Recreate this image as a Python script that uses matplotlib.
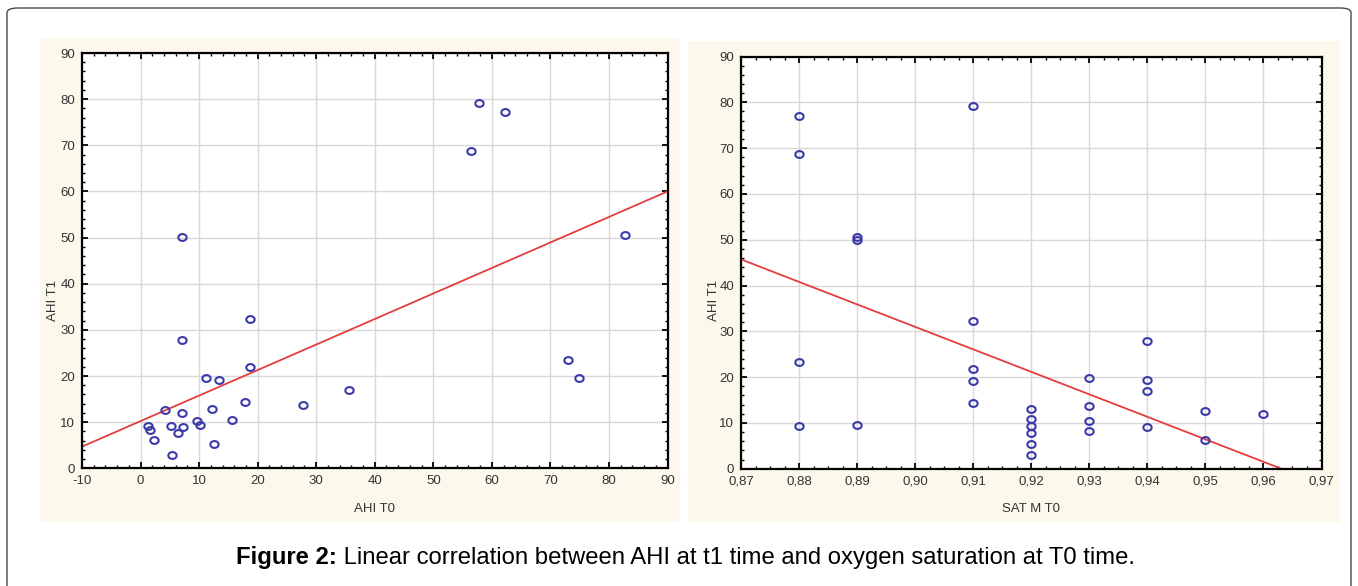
import numpy as np
import matplotlib
matplotlib.use("Agg")
import matplotlib.pyplot as plt
from matplotlib import font_manager
from matplotlib.patches import FancyBboxPatch, Rectangle
from matplotlib.ticker import FixedLocator, MultipleLocator, FixedFormatter

# ---------------- data ----------------
ahi_t0 = [7.0, 7.1, 18.7, 18.7, 11.1, 13.35, 17.8, 27.8, 35.6, 4.2, 7.0, 12.15,
          1.26, 1.67, 2.23, 5.2, 6.4, 7.3, 9.65, 10.2, 15.6, 12.55, 5.3,
          82.8, 73.0, 74.8, 57.8, 62.3, 56.5]
ahi_t1_left = [50.1, 27.8, 32.4, 22.0, 19.5, 19.2, 14.3, 13.7, 17.0, 12.7, 12.0, 12.9,
               9.2, 8.2, 6.15, 9.2, 7.75, 9.05, 10.35, 9.35, 10.4, 5.2, 2.8,
               50.65, 23.5, 19.6, 79.2, 77.2, 68.8]

sat_m_t0 = [0.88, 0.88, 0.88, 0.88,
            0.89, 0.89, 0.89,
            0.91, 0.91, 0.91, 0.91, 0.91,
            0.92, 0.92, 0.92, 0.92, 0.92, 0.92,
            0.93, 0.93, 0.93, 0.93,
            0.94, 0.94, 0.94, 0.94,
            0.95, 0.95,
            0.96]
ahi_t1_right = [77.0, 68.7, 23.4, 9.3,
                50.0, 50.5, 9.5,
                79.1, 32.3, 21.8, 19.2, 14.35,
                13.0, 10.9, 9.3, 7.7, 5.3, 3.0,
                19.8, 13.6, 10.35, 8.2,
                27.9, 19.4, 17.0, 9.2,
                12.6, 6.3,
                12.0]

# fitted regression lines (intercept, slope)
fit_left = (10.23, 0.553)
fit_right = (472.87, -491.0)

left_xticks = [-10, 0, 10, 20, 30, 40, 50, 60, 70, 80, 90]
left_xlabels = ["-10", "0", "10", "20", "30", "40", "50", "60", "70", "80", "90"]
right_xticks = [0.87, 0.88, 0.89, 0.90, 0.91, 0.92, 0.93, 0.94, 0.95, 0.96, 0.97]
right_xlabels = ["0,87", "0,88", "0,89", "0,90", "0,91", "0,92", "0,93", "0,94",
                 "0,95", "0,96", "0,97"]
yticks = [0, 10, 20, 30, 40, 50, 60, 70, 80, 90]
ylabels = ["0", "10", "20", "30", "40", "50", "60", "70", "80", "90"]

left_xlabel = "AHI T0"
right_xlabel = "SAT M T0"
ylabel_text = "AHI T1"
caption_bold = "Figure 2:"
caption_rest = " Linear correlation between AHI at t1 time and oxygen saturation at T0 time."

# ---------------- fonts ----------------
def has_font(name):
    try:
        font_manager.findfont(font_manager.FontProperties(family=name),
                              fallback_to_default=False)
        return True
    except Exception:
        return False

narrow = "Liberation Sans Narrow" if has_font("Liberation Sans Narrow") else "Liberation Sans"
plt.rcParams['font.family'] = [narrow, 'DejaVu Sans']

W, H = 1358, 586
fig = plt.figure(figsize=(W / 100, H / 100), dpi=100)
fig.patch.set_facecolor("white")

def fx(px):
    return px / W

def fy(py):
    return 1 - py / H

# outer rounded frame
frame = FancyBboxPatch((fx(7), fy(640)), fx(1351) - fx(7), fy(8) - fy(640),
                       boxstyle="round,pad=0,rounding_size=0.008",
                       transform=fig.transFigure, fill=False,
                       edgecolor="#4a4a4a", linewidth=1.0, zorder=-2)
fig.patches.append(frame)

# beige panels
beige = "#fcf8ec"
for (x0, y0, x1, y1) in [(40, 38, 680, 522), (688, 41, 1340, 522)]:
    fig.patches.append(Rectangle((fx(x0), fy(y1)), fx(x1) - fx(x0), fy(y0) - fy(y1),
                                 transform=fig.transFigure, facecolor=beige,
                                 edgecolor="none", zorder=-1))

tick_color = "#333333"
marker_color = "#3a3aa8"
line_color = "#e53c3c"
grid_color = "#d8d8d8"

th = np.linspace(0, 2 * np.pi, 40)
ellipse = np.column_stack([np.cos(th), 0.82 * np.sin(th)])

def style_axes(ax, xticks, xlabels, xminor, xlim):
    ax.set_facecolor("white")
    ax.set_xlim(*xlim)
    ax.set_ylim(0, 90)
    ax.xaxis.set_major_locator(FixedLocator(xticks))
    ax.xaxis.set_major_formatter(FixedFormatter(xlabels))
    ax.yaxis.set_major_locator(FixedLocator(yticks))
    ax.yaxis.set_major_formatter(FixedFormatter(ylabels))
    ax.xaxis.set_minor_locator(MultipleLocator(xminor))
    ax.yaxis.set_minor_locator(MultipleLocator(2))
    ax.grid(True, which="major", color=grid_color, linewidth=1.0, zorder=0)
    ax.set_axisbelow(True)
    for s in ax.spines.values():
        s.set_linewidth(1.6)
        s.set_color("black")
    ax.tick_params(which="both", direction="in", top=True, right=True,
                   colors="black", labelcolor=tick_color, labelsize=9.5)
    ax.tick_params(which="major", length=4, width=1.3, pad=5)
    ax.tick_params(which="minor", length=2.5, width=1.0)

# left panel
axL = fig.add_axes([fx(82), fy(468.3), fx(667.5) - fx(82), fy(53) - fy(468.3)])
style_axes(axL, left_xticks, left_xlabels, 2, (-10, 90))
xl = np.array(axL.get_xlim())
axL.plot(xl, fit_left[0] + fit_left[1] * xl, color=line_color, lw=1.3, zorder=2)
axL.plot(ahi_t0, ahi_t1_left, linestyle="none", marker=ellipse, ms=6.0,
         mfc="none", mec=marker_color, mew=1.5, zorder=3)
axL.set_xlabel(left_xlabel, fontsize=9.5, color=tick_color, labelpad=11)
axL.text(-0.0495, 0.403, ylabel_text, transform=axL.transAxes, rotation=90,
         ha="center", va="center", fontsize=9.5, color=tick_color)

# right panel
axR = fig.add_axes([fx(741), fy(468.7), fx(1321.5) - fx(741), fy(56.5) - fy(468.7)])
style_axes(axR, right_xticks, right_xlabels, 0.0025, (0.87, 0.97))
xr = np.array(axR.get_xlim())
axR.plot(xr, fit_right[0] + fit_right[1] * xr, color=line_color, lw=1.3, zorder=2)
axR.plot(sat_m_t0, ahi_t1_right, linestyle="none", marker=ellipse, ms=6.0,
         mfc="none", mec=marker_color, mew=1.5, zorder=3)
axR.set_xlabel(right_xlabel, fontsize=9.5, color=tick_color, labelpad=11)
axR.text(-0.047, 0.409, ylabel_text, transform=axR.transAxes, rotation=90,
         ha="center", va="center", fontsize=9.5, color=tick_color)

# caption: bold part + regular part, fitted to the reference width
cap_fam = [narrow, 'DejaVu Sans']
t1 = fig.text(0, fy(564), caption_bold, fontsize=14, fontweight="bold",
              family=cap_fam, va="baseline", ha="left", color="black")
t2 = fig.text(0, fy(564), caption_rest, fontsize=14, family=cap_fam,
              va="baseline", ha="left", color="black")
fig.canvas.draw()
r = fig.canvas.get_renderer()
w = t1.get_window_extent(r).width + t2.get_window_extent(r).width
scale = 905.0 / w
for t in (t1, t2):
    t.set_fontsize(14 * scale)
fig.canvas.draw()
w1 = t1.get_window_extent(r).width
t1.set_x(fx(236))
t2.set_x(fx(236 + w1))

fig.savefig("out.png", dpi=100, facecolor="white")
